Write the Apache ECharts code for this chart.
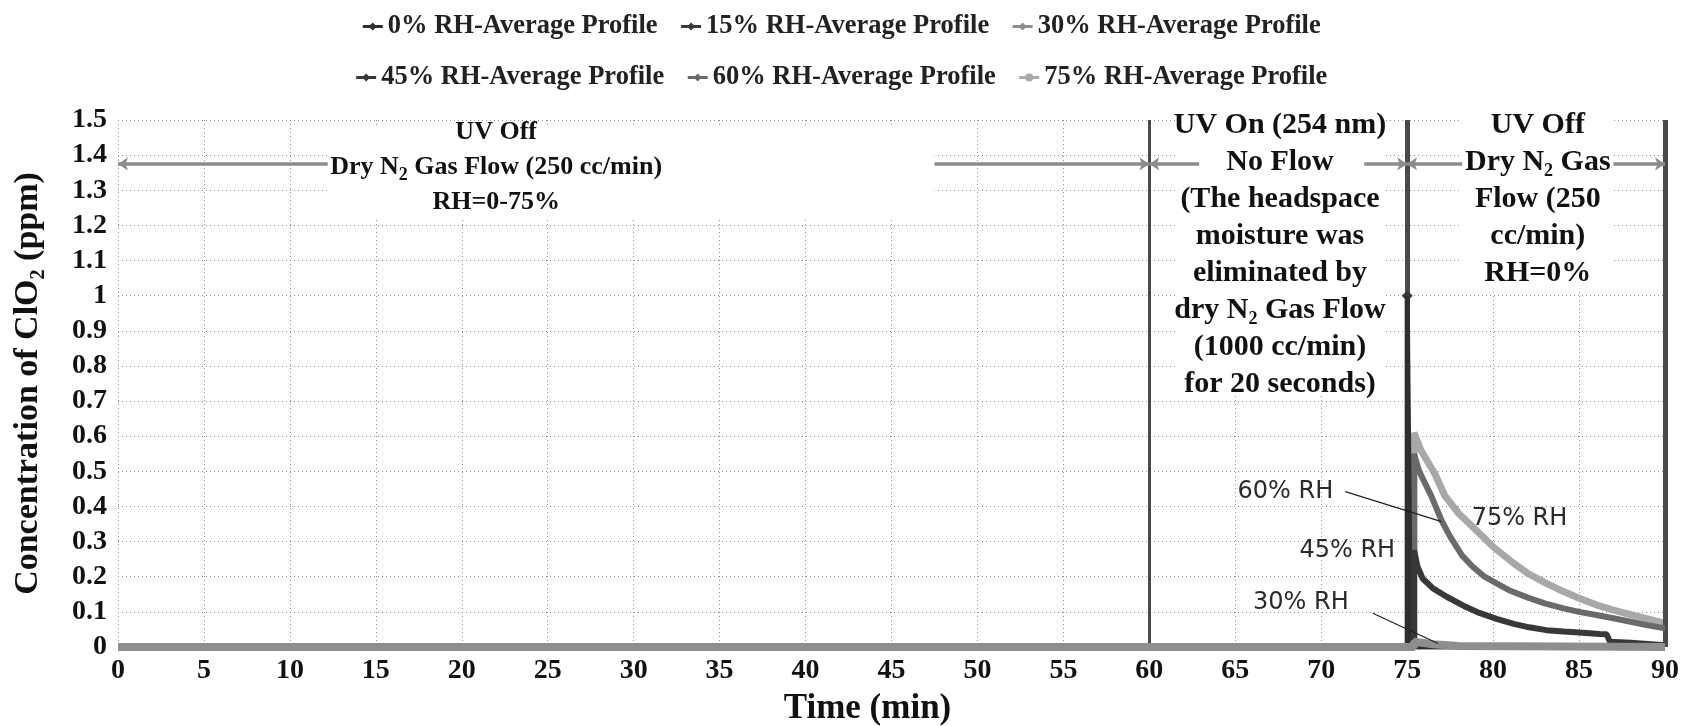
<!DOCTYPE html>
<html>
<head>
<meta charset="utf-8">
<title>ClO2 concentration profiles</title>
<script src="https://cdn.jsdelivr.net/npm/echarts@6/dist/echarts.min.js"></script>
<style>
  html, body { margin: 0; padding: 0; background: #fff; }
  #chart { width: 1682px; height: 726px; }
</style>
</head>
<body>
<div id="chart"></div>
<script>
// ---- Data: time (min) and ClO2 concentration (ppm) ----
const seriesNames = [
  '0% RH-Average Profile', '15% RH-Average Profile', '30% RH-Average Profile',
  '45% RH-Average Profile', '60% RH-Average Profile', '75% RH-Average Profile'
];

const rh0Time   = [0, 75, 75, 75.2, 90];
const rh0Value  = [0, 0, 1.0, 0, 0];

const rh15Time  = [0, 75.4, 90];
const rh15Value = [0, 0, 0];

const rh30Time  = [0, 75.4, 75.4, 76.5, 78, 90];
const rh30Value = [0, 0, 0.015, 0.008, 0.003, 0];

const rh45Time  = [0, 75.4, 75.4, 75.6, 75.9, 76.5, 77.3, 78.3, 79.2, 80.2, 81.2, 82.1, 83.1, 84.1, 85, 86.2, 86.6, 86.8, 88, 90];
const rh45Value = [0, 0, 0.276, 0.229, 0.195, 0.167, 0.143, 0.117, 0.097, 0.080, 0.066, 0.056, 0.048, 0.044, 0.041, 0.037, 0.036, 0.015, 0.012, 0.005];

const rh60Time  = [0, 75.4, 75.4, 75.7, 76.4, 77.0, 77.5, 78.2, 78.8, 79.5, 80.2, 81, 82.1, 83, 84.1, 85, 86, 87, 88, 89, 90];
const rh60Value = [0, 0, 0.55, 0.50, 0.43, 0.36, 0.314, 0.26, 0.229, 0.20, 0.181, 0.16, 0.139, 0.124, 0.110, 0.100, 0.091, 0.082, 0.072, 0.062, 0.053];

const rh75Time  = [0, 75.4, 75.4, 75.8, 76.6, 77.2, 78, 79, 80, 81.2, 82, 83.1, 84, 85, 86, 87, 88, 89, 90];
const rh75Value = [0, 0, 0.61, 0.56, 0.494, 0.43, 0.38, 0.333, 0.285, 0.238, 0.21, 0.181, 0.16, 0.139, 0.12, 0.105, 0.092, 0.08, 0.067];

// ---- Experiment phases (time in min) ----
const phaseBounds = [60, 75, 90];          // phase dividers
const phaseStart  = [0, 60, 75];
const phaseEnd    = [60, 75, 90];
const arrowLevel  = 1.375;                 // ppm level of the span arrows
const arrowGapStart = [12.2, 62.9, 78.2];  // span arrows break around the phase text
const arrowGapEnd   = [47.5, 72.5, 87.0];
const boxLeft   = [12.2, 61.6, 78.2];      // white boxes behind the phase text
const boxRight  = [47.5, 73.6, 87.0];
const boxTop    = [1.48, 1.52, 1.52];
const boxBottom = [1.22, 0.72, 1.02];
const phaseTextX = [22.0, 67.6, 82.6];
const phaseTextY = [1.466, 1.486, 1.486];
const phaseTexts = [
  ['UV Off', 'Dry N{sub|2} Gas Flow (250 cc/min)', 'RH=0-75%'],
  ['UV On (254 nm)', 'No Flow', '(The headspace', 'moisture was', 'eliminated by',
   'dry N{sub|2} Gas Flow', '(1000 cc/min)', 'for 20 seconds)'],
  ['UV Off', 'Dry N{sub|2} Gas', 'Flow (250', 'cc/min)', 'RH=0%']
];

// ---- Curve call-outs ----
const calloutText  = ['60% RH', '45% RH', '30% RH', '75% RH'];
const calloutTime  = [70.7, 74.3, 71.6, 78.75];
const calloutValue = [0.442, 0.273, 0.125, 0.366];
const calloutSide  = ['right', 'right', 'right', 'left'];
const pointerFrom  = [[71.4, 0.442], [73.0, 0.096]];
const pointerTo    = [[77.0, 0.357], [76.8, 0.010]];

// ---- Styling ----
const SERIF = '"Liberation Serif", "Times New Roman", serif';
const SANS = '"DejaVu Sans", Verdana, sans-serif';
const seriesColors = ['#2e2e2e', '#3a3a3a', '#8e8e8e', '#383838', '#6a6a6a', '#a8a8a8'];
const seriesSymbols = ['diamond', 'diamond', 'diamond', 'diamond', 'diamond', 'circle'];
const seriesWidths = [5, 5, 8, 6, 6, 7];
const seriesZ = [6, 3, 9, 7, 5, 4];

const profiles = [
  [rh0Time, rh0Value], [rh15Time, rh15Value], [rh30Time, rh30Value],
  [rh45Time, rh45Value], [rh60Time, rh60Value], [rh75Time, rh75Value]
];

function pairs(t, v) { return t.map((x, i) => [x, v[i]]); }

const chart = echarts.init(document.getElementById('chart'), null, { renderer: 'canvas' });

// Divider lines and span arrows drawn as markLines
const markLineData = phaseBounds.map((x, i) => ({
  xAxis: x,
  lineStyle: { color: '#4a4a4a', width: i === 0 ? 3 : 5, type: 'solid' }
}));
const arrowStyle = { color: '#8c8c8c', width: 3.5, type: 'solid' };
for (let i = 0; i < phaseStart.length; i++) {
  markLineData.push([
    { coord: [phaseStart[i], arrowLevel], symbol: 'arrow', lineStyle: arrowStyle },
    { coord: [arrowGapStart[i], arrowLevel], symbol: 'none' }
  ]);
  markLineData.push([
    { coord: [arrowGapEnd[i], arrowLevel], symbol: 'none', lineStyle: arrowStyle },
    { coord: [phaseEnd[i], arrowLevel], symbol: 'arrow' }
  ]);
}

const series = profiles.map((p, i) => ({
  name: seriesNames[i],
  type: 'line',
  data: pairs(p[0], p[1]),
  symbol: seriesSymbols[i],
  symbolSize: 8,
  showSymbol: false,
  lineStyle: { color: seriesColors[i], width: seriesWidths[i] },
  itemStyle: { color: seriesColors[i] },
  z: seriesZ[i],
  animation: false
}));

series[0].markLine = {
  silent: true, animation: false,
  symbol: ['none', 'none'], symbolSize: 10,
  label: { show: false },
  data: markLineData
};
series[0].markPoint = {
  silent: true, animation: false,
  symbol: 'diamond', symbolSize: 11,
  itemStyle: { color: '#3a3a3a' },
  label: { show: false },
  data: [{ coord: [rh0Time[2], rh0Value[2]] }]
};

// White boxes behind the phase descriptions (drawn with the lowest series)
series[1].markArea = {
  silent: true, animation: false,
  itemStyle: { color: '#ffffff', opacity: 1 },
  label: { show: false },
  data: boxLeft.map((x, i) => [
    { coord: [x, boxTop[i]] },
    { coord: [boxRight[i], boxBottom[i]] }
  ])
};

// Call-out pointer lines
pointerFrom.forEach((from, i) => {
  series.push({
    type: 'line',
    data: [from, pointerTo[i]],
    symbol: 'none',
    silent: true,
    lineStyle: { color: '#222', width: 1.3 },
    z: 12,
    animation: false
  });
});

const legendCommon = {
  left: 'center',
  itemGap: 22,
  itemWidth: 20,
  itemHeight: 10,
  lineStyle: { width: 3 },
  textStyle: { fontFamily: SERIF, fontWeight: 'bold', fontSize: 26.5, color: '#222' }
};

chart.setOption({
  backgroundColor: '#fff',
  animation: false,
  legend: [
    Object.assign({ top: 8, data: seriesNames.slice(0, 3) }, legendCommon),
    Object.assign({ top: 59, data: seriesNames.slice(3) }, legendCommon)
  ],
  grid: { left: 118, right: 17, top: 120, bottom: 79, outerBoundsMode: 'none', containLabel: false },
  xAxis: {
    type: 'value', min: 0, max: 90, interval: 5,
    name: 'Time (min)', nameLocation: 'middle', nameGap: 44,
    nameTextStyle: { fontFamily: SERIF, fontWeight: 'bold', fontSize: 35, color: '#111', padding: [0, 48, 0, 0] },
    axisLine: { show: false },
    axisTick: { show: false },
    axisLabel: { fontFamily: SERIF, fontWeight: 'bold', fontSize: 28, color: '#111', margin: 10 },
    splitLine: { show: true, lineStyle: { color: '#8f8f8f', type: [1, 3], width: 1 } }
  },
  yAxis: {
    type: 'value', min: 0, max: 1.5, interval: 0.1,
    name: 'Concentration of ClO{sub|2} (ppm)', nameLocation: 'middle', nameGap: 69,
    nameTextStyle: {
      fontFamily: SERIF, fontWeight: 'bold', fontSize: 34, color: '#111', lineHeight: 42,
      rich: {
        sub: { fontFamily: SERIF, fontWeight: 'bold', fontSize: 20, color: '#111', verticalAlign: 'bottom' }
      }
    },
    axisLine: { show: false },
    axisTick: { show: false },
    axisLabel: { fontFamily: SERIF, fontWeight: 'bold', fontSize: 28, color: '#111', margin: 11 },
    splitLine: { show: true, lineStyle: { color: '#8f8f8f', type: [1, 3], width: 1 } }
  },
  series: series
});

// Phase descriptions and call-out labels, placed in data coordinates
function px(t, v) { return chart.convertToPixel({ gridIndex: 0 }, [t, v]); }

const graphics = [];
const phaseFont = [26, 30, 30];
const phaseLineHeight = [35, 37, 37];
for (let i = 0; i < phaseTexts.length; i++) {
  const c = px(phaseTextX[i], phaseTextY[i]);
  graphics.push({
    type: 'text', z: 100, silent: true,
    x: c[0], y: c[1] - phaseLineHeight[i] / 2,
    style: {
      text: phaseTexts[i].join('\n'),
      fontFamily: SERIF, fontWeight: 'bold', fontSize: phaseFont[i], lineHeight: phaseLineHeight[i],
      align: 'center', verticalAlign: 'top', fill: '#111',
      rich: {
        sub: { fontFamily: SERIF, fontWeight: 'bold', fontSize: 18, fill: '#111', verticalAlign: 'bottom' }
      }
    }
  });
}
for (let i = 0; i < calloutText.length; i++) {
  const c = px(calloutTime[i], calloutValue[i]);
  graphics.push({
    type: 'text', z: 100, silent: true,
    x: c[0], y: c[1],
    style: {
      text: calloutText[i], fontFamily: SANS, fontSize: 24, fill: '#2a2a2a',
      align: calloutSide[i], verticalAlign: 'middle'
    }
  });
}
chart.setOption({ graphic: { elements: graphics } });
</script>
</body>
</html>
